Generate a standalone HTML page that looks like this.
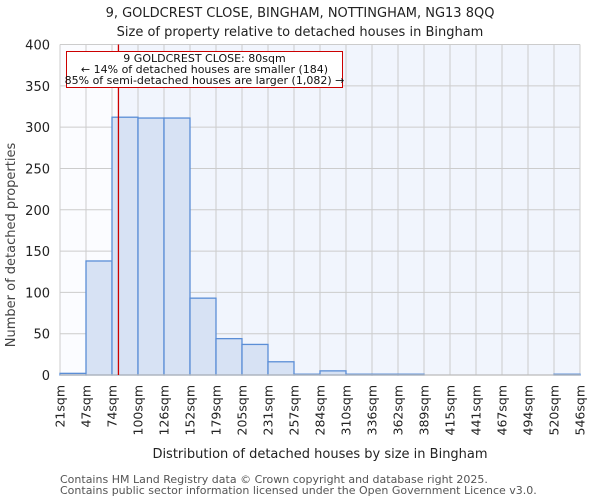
<!DOCTYPE html>
<html><head><meta charset="utf-8"><style>
body{margin:0;background:#fff;font-family:"DejaVu Sans","Liberation Sans",sans-serif}
</style></head><body>
<svg width="600" height="500" xmlns="http://www.w3.org/2000/svg" font-family="DejaVu Sans, Liberation Sans, sans-serif">
<text x="300" y="17" text-anchor="middle" font-size="13" fill="#222">9, GOLDCREST CLOSE, BINGHAM, NOTTINGHAM, NG13 8QQ</text>
<text x="300" y="36" text-anchor="middle" font-size="13" fill="#222">Size of property relative to detached houses in Bingham</text>
<g id="plot"></g>
<text transform="translate(15,245) rotate(-90)" text-anchor="middle" font-size="13" fill="#444">Number of detached properties</text>
<text x="320" y="458" text-anchor="middle" font-size="13" fill="#222">Distribution of detached houses by size in Bingham</text>
<text x="60" y="483" font-size="11" fill="#555">Contains HM Land Registry data © Crown copyright and database right 2025.</text>
<text x="60" y="494" font-size="11" fill="#555">Contains public sector information licensed under the Open Government Licence v3.0.</text>
</svg>
<script>
const binEdges=[21,47,74,100,126,152,179,205,231,257,284,310,336,362,389,415,441,467,494,520,546];
const counts=[2,138,312,311,311,93,44,37,16,1,5,1,1,1,0,0,0,0,0,1];
const yTicks=[0,50,100,150,200,250,300,350,400];
const markerSqm=80;
const NS="http://www.w3.org/2000/svg";
const L=60,R=580,T=44.5,B=375,minX=21,maxX=546,maxY=400;
const xs=v=>L+(v-minX)/(maxX-minX)*(R-L);
const xi=i=>L+i*(R-L)/counts.length;
const ys=v=>B-v/maxY*(B-T);
const g=document.getElementById('plot');
function mk(tag,a,p){const e=document.createElementNS(NS,tag);for(const k in a)e.setAttribute(k,a[k]);(p||g).appendChild(e);return e;}
const mx=xs(markerSqm);
const bgL=mk('rect',{x:L,y:T,width:mx-L,height:B-T,fill:'#fbfcff'});


const bgR=mk('rect',{x:mx,y:T,width:R-mx,height:B-T,fill:'#f1f5fd'});


for(let i=0;i<=counts.length;i++){const l=mk('line',{x1:xi(i),x2:xi(i),y1:T,y2:B,stroke:'#ccc','stroke-width':1});

}
yTicks.forEach(t=>{const l=mk('line',{x1:L,x2:R,y1:ys(t),y2:ys(t),stroke:'#ccc','stroke-width':1});


const tx=mk('text',{x:L-10,y:ys(t)+5,'text-anchor':'end','font-size':13,fill:'#222'});tx.textContent=t;

});
counts.forEach((c,i)=>{const x0=xi(i),x1=xi(i+1);
const r=mk('rect',{x:x0,y:ys(c),width:x1-x0,height:B-ys(c),fill:'#d7e2f4',stroke:'#5b8ed6','stroke-width':1.3});

});
mk('line',{x1:L,x2:R,y1:B,y2:B,stroke:'#bbb','stroke-width':1.3});
binEdges.forEach((e,i)=>{const x=xi(i);
const tx=mk('text',{transform:`translate(${x+4.5},${B+10}) rotate(-90)`,'text-anchor':'end','font-size':12.5,fill:'#222'});tx.textContent=e+'sqm';

});
const ml=mk('line',{x1:mx,x2:mx,y1:T,y2:B,stroke:'#cc0000','stroke-width':1.3});


const box=mk('rect',{x:66.5,y:51.5,width:276,height:36,fill:'#fff',stroke:'#cc0000','stroke-width':1});


["9 GOLDCREST CLOSE: 80sqm","← 14% of detached houses are smaller (184)","85% of semi-detached houses are larger (1,082) →"].forEach((s,i)=>{
const tx=mk('text',{x:204.5,y:62+i*11,'text-anchor':'middle','font-size':11,fill:'#111'});tx.textContent=s;

});
</script>
</body></html>
